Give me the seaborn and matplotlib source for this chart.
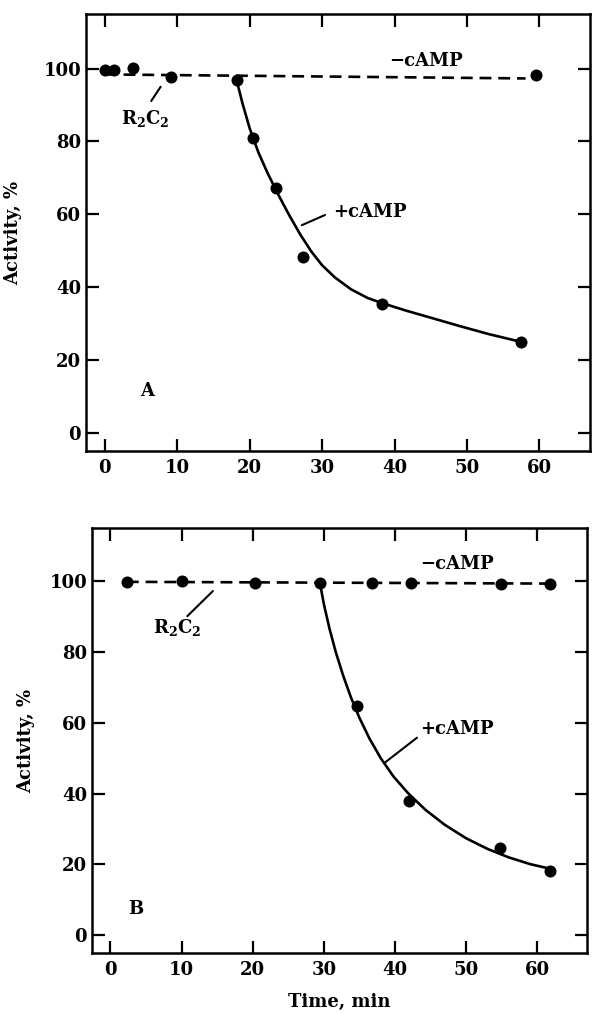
import matplotlib
matplotlib.use("Agg")
import matplotlib.pyplot as plt
import seaborn as sns

# panel A (time in min, activity in %)
minus_t_A = [0, 1.3, 3.9, 9.1, 59.6]
minus_A = [99.7, 99.5, 100.2, 97.6, 98.3]
plus_t_A = [18.2, 20.5, 23.6, 27.4, 38.3, 57.4]
plus_A = [96.8, 80.9, 67.3, 48.3, 35.3, 24.9]
# hand-drawn curves
dash_t_A = [0, 58.1]
dash_A = [98.4, 97.3]
fit_t_A = [18.2, 19.0, 20.0, 21.2, 22.5, 24.0, 25.5, 27.0, 28.5, 30.0, 31.8,
           34.0, 36.3, 38.3, 41.5, 45.0, 49.0, 53.0, 57.4]
fit_A = [96.8, 90.5, 83.6, 77.0, 71.2, 65.2, 59.6, 54.4, 49.8, 46.0, 42.6,
         39.4, 37.0, 35.6, 33.6, 31.6, 29.3, 27.1, 25.0]

# panel B
minus_t_B = [2.3, 10.0, 20.3, 29.4, 36.7, 42.2, 54.9, 61.8]
minus_B = [99.8, 100, 99.5, 99.5, 99.5, 99.4, 99.2, 99.2]
plus_t_B = [34.7, 41.9, 54.8, 61.8]
plus_B = [64.6, 38.0, 24.6, 18.2]
dash_t_B = [2.3, 61.8]
dash_B = [99.8, 99.3]
fit_t_B = [29.4, 30.0, 30.8, 31.7, 32.7, 33.8, 35.0, 36.4, 38.0, 39.8, 41.9,
           44.3, 47.0, 50.0, 53.0, 56.0, 59.0, 61.8]
fit_B = [100, 93.5, 86.5, 79.8, 73.4, 67.2, 61.4, 55.6, 50.0, 44.8, 40.0,
         35.4, 31.2, 27.4, 24.4, 22.0, 20.1, 18.8]

x_ticks = [0, 10, 20, 30, 40, 50, 60]
y_ticks = [0, 20, 40, 60, 80, 100]

sns.set_style("ticks")
plt.rcParams["font.family"] = ["DejaVu Serif"]
plt.rcParams["font.weight"] = "bold"
plt.rcParams["mathtext.fontset"] = "dejavuserif"
for k in ["text.color", "axes.labelcolor", "xtick.color", "ytick.color",
          "xtick.labelcolor", "ytick.labelcolor"]:
    plt.rcParams[k] = "black"
FS = 13

fig = plt.figure(figsize=(5.92, 10.13), dpi=100)
axA = fig.add_axes([0.1453, 0.5548, 0.8514, 0.4314])
axB = fig.add_axes([0.1554, 0.0592, 0.8362, 0.4196])


def draw(ax, dt, dy, ft, fy, mt, my, pt, py):
    sns.lineplot(x=dt, y=dy, ax=ax, color="black", lw=1.9, sort=False,
                 estimator=None)
    ax.lines[-1].set_dashes((4.5, 2.6))
    sns.lineplot(x=ft, y=fy, ax=ax, color="black", lw=1.9, sort=False,
                 estimator=None)
    sns.scatterplot(x=mt + pt, y=my + py, ax=ax, color="black", s=75,
                    edgecolor="black", linewidth=0, zorder=5)
    ax.set_xlim(-2.6, 67)
    ax.set_ylim(-5, 115)
    ax.set_xticks(x_ticks)
    ax.set_yticks(y_ticks)
    ax.tick_params(direction="in", top=True, right=True, length=9, width=1.6,
                   labelsize=FS, colors="black")
    ax.tick_params(axis="x", pad=6)
    ax.tick_params(axis="y", pad=3.5)
    for s in ax.spines.values():
        s.set_linewidth(1.8)
        s.set_color("black")
    ax.set_ylabel("Activity, %", fontsize=FS, fontweight="bold")
    ax.set_xlabel("")


draw(axA, dash_t_A, dash_A, fit_t_A, fit_A, minus_t_A, minus_A, plus_t_A, plus_A)
draw(axB, dash_t_B, dash_B, fit_t_B, fit_B, minus_t_B, minus_B, plus_t_B, plus_B)

axA.yaxis.set_label_coords(-0.127, 0.5)
axB.yaxis.set_label_coords(-0.115, 0.5)
axB.set_xlabel("Time, min", fontsize=FS, fontweight="bold")
axB.xaxis.set_label_coords(0.5, -0.093)

# annotations panel A
axA.text(44.4, 102, "\u2212cAMP", fontsize=FS, ha="center", va="center")
axA.text(36.6, 60.7, "+cAMP", fontsize=FS, ha="center", va="center")
axA.plot([27.2, 30.4], [57, 59.8], color="black", lw=1.5)
axA.text(5.6, 86.4, r"$\mathbf{R_2C_2}$", fontsize=FS, ha="center", va="center")
axA.plot([6.4, 7.7], [91.1, 95], color="black", lw=1.5)
axA.text(5.9, 11.6, "A", fontsize=FS, ha="center", va="center")

# annotations panel B
axB.text(48.7, 104.7, "\u2212cAMP", fontsize=FS, ha="center", va="center")
axB.text(48.7, 58.2, "+cAMP", fontsize=FS, ha="center", va="center")
axB.plot([38.6, 43.1], [48.8, 55.8], color="black", lw=1.5)
axB.text(9.4, 86.9, r"$\mathbf{R_2C_2}$", fontsize=FS, ha="center", va="center")
axB.plot([10.8, 14.4], [90.1, 97.2], color="black", lw=1.5)
axB.text(3.5, 7.4, "B", fontsize=FS, ha="center", va="center")

fig.savefig("out.png", dpi=100)
